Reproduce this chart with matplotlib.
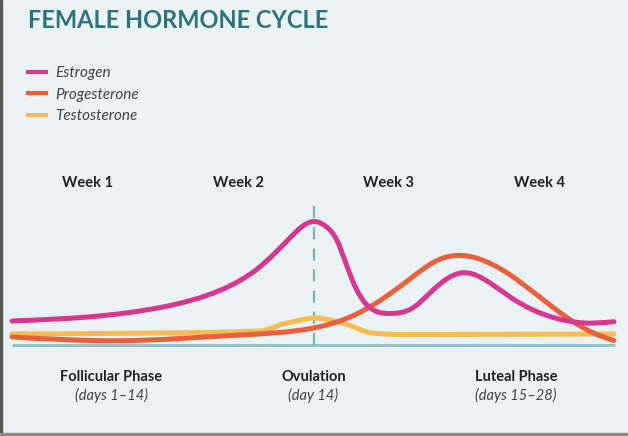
import numpy as np
import matplotlib
matplotlib.use('Agg')
import matplotlib.pyplot as plt
from matplotlib.path import Path
from matplotlib.patches import PathPatch, Rectangle
from matplotlib.lines import Line2D

# values (day of cycle, relative level)
estrogen_days = [0.0, 3.5, 7.0, 9.7, 11.5, 12.9, 13.99, 14.61, 15.08, 15.5,
                 16.01, 16.4, 16.93, 17.55, 18.6, 19.55, 20.96, 22.2, 23.2,
                 24.2, 25.45, 26.6, 27.95]
estrogen_vals = [24, 28, 38, 55, 78, 107, 123.5, 118, 105, 82,
                 55, 42, 33.5, 31.5, 37, 55, 72.3, 62, 47,
                 35, 25.7, 22, 23.3]

progesterone_days = [0.0, 5.0, 10.6, 14.0, 15.7, 17.2, 18.6, 19.6, 20.6,
                     21.7, 23.0, 24.5, 25.8, 26.9, 27.95]
progesterone_vals = [8, 4.3, 10, 17, 28, 46, 68, 83, 89.5,
                     86, 72, 48, 27, 13, 4.5]

testosterone_days = [0.0, 6.87, 11.52, 12.6, 14.12, 15.5, 16.72,
                     18.02, 27.95]
testosterone_vals = [11, 12, 14, 21, 27, 21, 12,
                     10.5, 11]

weeks = ['Week 1', 'Week 2', 'Week 3', 'Week 4']
week_centers = [3.5, 10.5, 17.5, 24.5]
phases = ['Follicular Phase', 'Ovulation', 'Luteal Phase']
phase_days = ['(days 1–14)', '(day 14)', '(days 15–28)']
phase_centers = [4.6, 14, 23.4]
ovulation_day = 14

colors = {'Estrogen': '#d6388f', 'Progesterone': '#e8603c', 'Testosterone': '#f6bb52'}
bg = '#eaf2f5'

plt.rcParams['font.family'] = ['Lato', 'DejaVu Sans']


def slopes_pchip(x, y):
    h = np.diff(x)
    d = np.diff(y) / h
    m = np.zeros(len(x))
    m[0], m[-1] = d[0], d[-1]
    for i in range(1, len(x) - 1):
        if d[i - 1] * d[i] > 0:
            w1 = 2 * h[i] + h[i - 1]
            w2 = h[i] + 2 * h[i - 1]
            m[i] = (w1 + w2) / (w1 / d[i - 1] + w2 / d[i])
    return m


def slopes_natural(x, y):
    n = len(x)
    h = np.diff(x)
    d = np.diff(y) / h
    A = np.zeros((n, n))
    r = np.zeros(n)
    A[0, 0] = A[-1, -1] = 1
    for i in range(1, n - 1):
        A[i, i - 1] = h[i - 1]
        A[i, i] = 2 * (h[i - 1] + h[i])
        A[i, i + 1] = h[i]
        r[i] = 6 * (d[i] - d[i - 1])
    M = np.linalg.solve(A, r)
    m = np.zeros(n)
    m[:-1] = d - h * (2 * M[:-1] + M[1:]) / 6
    m[-1] = d[-1] + h[-1] * (M[-2] + 2 * M[-1]) / 6
    return m


def smooth_path(xs, ys, natural=True):
    x = np.asarray(xs, float)
    y = np.asarray(ys, float)
    m = slopes_natural(x, y) if natural else slopes_pchip(x, y)
    h = np.diff(x)
    verts = [(x[0], y[0])]
    codes = [Path.MOVETO]
    for i in range(len(x) - 1):
        verts += [(x[i] + h[i] / 3, y[i] + m[i] * h[i] / 3),
                  (x[i + 1] - h[i] / 3, y[i + 1] - m[i + 1] * h[i] / 3),
                  (x[i + 1], y[i + 1])]
        codes += [Path.CURVE4] * 3
    return Path(verts, codes)


W, H = 628, 436
fig = plt.figure(figsize=(W / 100, H / 100), dpi=100, facecolor=bg)
ax = fig.add_axes([0, 0, 1, 1])
ax.set_facecolor(bg)
px_per_day = 603 / 28
ax.set_xlim(-12 / px_per_day, (W - 12) / px_per_day)
ax.set_ylim(-(H - 345), 345)
ax.axis('off')

# baseline and ovulation marker
ax.plot([0, 28], [0, 0], color='#8dc0c5', lw=2, solid_capstyle='butt', zorder=1)
ax.plot([ovulation_day, ovulation_day], [0, 147], color='#7db4ba', lw=1.6,
        dashes=(5.5, 4), zorder=1)

series = [('Testosterone', testosterone_days, testosterone_vals, False),
          ('Progesterone', progesterone_days, progesterone_vals, True),
          ('Estrogen', estrogen_days, estrogen_vals, True)]
for z, (name, xs, ys, nat) in enumerate(series):
    patch = PathPatch(smooth_path(xs, ys, nat), facecolor='none', edgecolor=colors[name],
                      lw=3.6, capstyle='round', joinstyle='round', zorder=3 + z)
    ax.add_patch(patch)

# title
fig.text(28 / W, 1 - 21 / H, 'FEMALE HORMONE CYCLE', color='#2e737b',
         fontsize=17, fontweight='bold', va='center', ha='left')

# legend
names = ['Estrogen', 'Progesterone', 'Testosterone']
handles = [Line2D([], [], color=colors[n], lw=3) for n in names]
leg = fig.legend(handles, names,
                 loc='upper left', bbox_to_anchor=(28 / W, 1 - 66 / H),
                 frameon=False, borderpad=0, borderaxespad=0, handlelength=1.15,
                 handletextpad=0.65, labelspacing=0.5,
                 prop={'style': 'italic', 'size': 11})
for t in leg.get_texts():
    t.set_color('#444444')

# week labels
for lab, c in zip(weeks, week_centers):
    ax.text(c, 345 - 183, lab, ha='center', va='center', fontsize=10.5,
            fontweight='bold', color='#222222')

# phase labels
for lab, sub, c in zip(phases, phase_days, phase_centers):
    ax.text(c, 345 - 377, lab, ha='center', va='center', fontsize=10.5,
            fontweight='bold', color='#222222')
    ax.text(c, 345 - 395, sub, ha='center', va='center', fontsize=10.5,
            style='italic', color='#444444')

# frame edges seen in the reference
fig.patches.append(Rectangle((0, 0), 2 / W, 1, transform=fig.transFigure,
                             color='#555555', zorder=10))
fig.patches.append(Rectangle((0, 0), 1, 3 / H, transform=fig.transFigure,
                             color='#8a8a8a', zorder=10))

fig.savefig('out.png', dpi=100, facecolor=bg)
